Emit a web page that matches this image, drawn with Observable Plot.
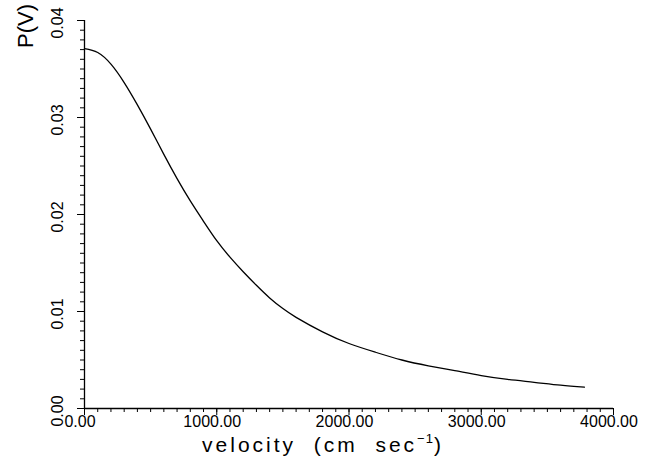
<!DOCTYPE html>
<html>
<head>
<meta charset="utf-8">
<script src="https://cdn.jsdelivr.net/npm/d3@7"></script>
<script src="https://cdn.jsdelivr.net/npm/@observablehq/plot@0.6"></script>
<style>
  html, body { margin: 0; padding: 0; background: #fff; }
  svg { display: block; }
</style>
</head>
<body>
<div id="chart"></div>
<script>
// Data
const velocity = [0, 100, 200, 300, 400, 500, 600, 700, 800, 900, 1000, 1100, 1200, 1300, 1400, 1500, 1600, 1800, 2000, 2200, 2400, 2600, 2800, 3000, 3200, 3400, 3600, 3780];
const pv = [0.0371, 0.0367, 0.0355, 0.0336, 0.0313, 0.0288, 0.0262, 0.0237, 0.0214, 0.0193, 0.0173, 0.0156, 0.0141, 0.0127, 0.0114, 0.0103, 0.0094, 0.0079, 0.0067, 0.0058, 0.0050, 0.0044, 0.0039, 0.0034, 0.0030, 0.0027, 0.0024, 0.0022];

const xMajorTicks = [0, 1000, 2000, 3000, 4000];
const xMinorTicks = d3.range(0, 41).map(i => i * 100);
const yMajorTicks = [0, 0.01, 0.02, 0.03, 0.04];
const yMinorTicks = d3.range(0, 41).map(i => i / 1000);

const yLabel = "P(V)";
const xLabelMain = "velocity  (cm  sec";
const xLabelSup = "−1";
const xLabelEnd = ")";

const data = velocity.map((v, i) => ({v, p: pv[i]}));

const chart = Plot.plot({
  width: 653,
  height: 462,
  marginLeft: 84,
  marginRight: 40,
  marginTop: 20,
  marginBottom: 54,
  style: {fontFamily: "'Liberation Sans', Arial, sans-serif", fontSize: "16px", color: "#000", background: "#fff"},
  x: {domain: [0, 4000]},
  y: {domain: [0, 0.04]},
  marks: [
    Plot.axisX({ticks: xMinorTicks, tickSize: 4, tickFormat: () => "", label: null, stroke: "#000"}),
    Plot.axisX({ticks: xMajorTicks, tickSize: 7, tickFormat: () => "", label: null, stroke: "#000"}),
    Plot.axisY({ticks: yMinorTicks, tickSize: 4, tickFormat: () => "", label: null, stroke: "#000"}),
    Plot.axisY({ticks: yMajorTicks, tickSize: 7, tickFormat: () => "", label: null, stroke: "#000"}),
    Plot.ruleX([0], {strokeWidth: 1.3}),
    Plot.ruleY([0], {strokeWidth: 1.3}),
    Plot.line(data, {x: "v", y: "p", curve: "natural", stroke: "#000", strokeWidth: 1.3})
  ]
});

document.getElementById("chart").appendChild(chart);

// Labels placed with Plot's own scales
const sx = chart.scale("x"), sy = chart.scale("y");
const svgSel = d3.select(chart);
const FONT = "'Liberation Sans', Arial, sans-serif";
const x0 = sx.apply(0), y0 = sy.apply(0);

svgSel.append("g").selectAll("text").data(xMajorTicks).join("text")
  .attr("x", d => sx.apply(d) - 4)
  .attr("y", y0 + 19)
  .attr("text-anchor", "middle")
  .attr("font-family", FONT)
  .attr("font-size", 16)
  .attr("fill", "#000")
  .text(d => d.toFixed(2));

svgSel.append("g").selectAll("text").data(yMajorTicks).join("text")
  .attr("transform", d => `translate(${x0 - 21},${sy.apply(d) + 3}) rotate(-90)`)
  .attr("text-anchor", "middle")
  .attr("font-family", FONT)
  .attr("font-size", 16)
  .attr("fill", "#000")
  .text(d => d.toFixed(2));

svgSel.append("text")
  .attr("transform", `translate(${x0 - 51},${sy.apply(0.04) + 6}) rotate(-90)`)
  .attr("text-anchor", "middle")
  .attr("font-family", FONT)
  .attr("font-size", 22)
  .attr("fill", "#000")
  .text(yLabel);

const title = svgSel.append("text")
  .attr("x", 323)
  .attr("y", y0 + 44)
  .attr("text-anchor", "middle")
  .attr("font-family", FONT)
  .attr("font-size", 21)
  .attr("letter-spacing", "3px")
  .attr("fill", "#000")
  .attr("xml:space", "preserve");
title.append("tspan").text(xLabelMain);
title.append("tspan").attr("dy", -9).attr("font-size", 13).attr("letter-spacing", "1px").text(xLabelSup);
title.append("tspan").attr("dy", 9).text(xLabelEnd);
</script>
</body>
</html>
